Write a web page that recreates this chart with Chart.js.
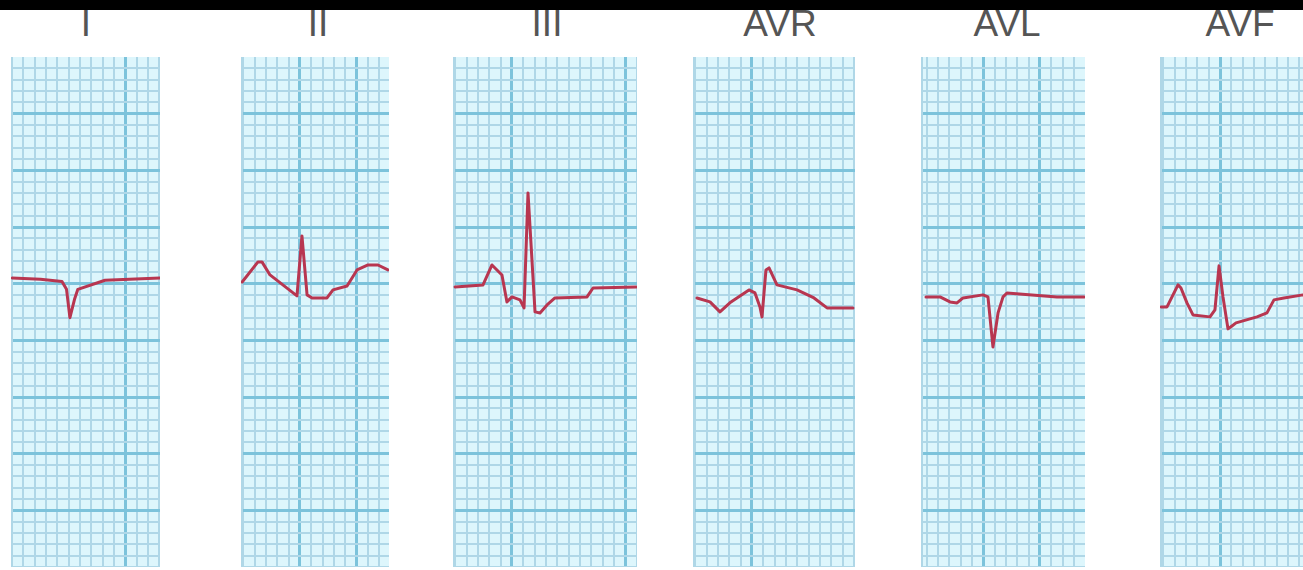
<!DOCTYPE html>
<html>
<head>
<meta charset="utf-8">
<script src="https://cdn.jsdelivr.net/npm/chart.js@4/dist/chart.umd.min.js"></script>
<style>
  html, body { margin: 0; padding: 0; background: #fff; overflow: hidden; width: 1303px; height: 570px; }
  #topbar { position: absolute; left: 0; top: 0; width: 1303px; height: 10px; background: #000; z-index: 5; }
  .lead-title { position: absolute; top: 4px; width: 160px; margin-left: -80px; text-align: center;
    font-family: "Liberation Sans", Arial, sans-serif; font-size: 37px; line-height: 40px; color: #555; }
  canvas.strip { position: absolute; top: 57px; }
</style>
</head>
<body>
<div id="topbar"></div>

<script>
// Lead names
const leadNames = ['I', 'II', 'III', 'AVR', 'AVL', 'AVF'];

// Traces: time in small-square (mm) units from the strip's left edge,
// amplitude in mm above the bottom of the strip.
const leadI_t   = [0.1, 2.6, 4.5, 4.9, 5.2, 5.6, 5.9, 8.3, 13.2];
const leadI_mm  = [25.5, 25.4, 25.2, 24.5, 22.0, 23.6, 24.5, 25.3, 25.5];

const leadII_t  = [0.1, 1.5, 1.85, 2.56, 4.94, 5.38, 5.83, 6.27, 7.59, 8.12, 9.36, 10.24, 11.21, 12.09, 12.97];
const leadII_mm = [25.15, 26.92, 26.92, 25.77, 23.92, 29.21, 24.01, 23.74, 23.74, 24.45, 24.8, 26.21, 26.65, 26.65, 26.21];

const leadIII_t  = [0.18, 2.65, 3.44, 4.32, 4.76, 5.21, 5.91, 6.27, 6.62, 7.24, 7.68, 8.3, 9.0, 11.83, 12.36, 16.15];
const leadIII_mm = [24.71, 24.89, 26.65, 25.77, 23.39, 23.83, 23.57, 22.86, 33.01, 22.51, 22.42, 23.12, 23.74, 23.83, 24.62, 24.71];

const leadAVR_t  = [0.35, 1.5, 2.38, 3.35, 4.94, 5.47, 5.91, 6.09, 6.44, 6.71, 7.41, 9.18, 10.68, 11.83, 14.12];
const leadAVR_mm = [23.74, 23.39, 22.51, 23.39, 24.45, 24.18, 22.95, 22.07, 26.21, 26.39, 24.89, 24.45, 23.74, 22.86, 22.86];

const leadAVL_t  = [0.44, 1.68, 2.56, 3.18, 3.71, 5.47, 5.91, 6.35, 6.8, 7.24, 7.59, 12.0, 14.39];
const leadAVL_mm = [23.83, 23.83, 23.39, 23.3, 23.74, 24.01, 23.83, 19.42, 22.42, 23.83, 24.18, 23.83, 23.83];

const leadAVF_t  = [0.09, 0.62, 1.59, 1.85, 2.38, 2.91, 4.41, 4.85, 5.21, 5.56, 6.0, 6.35, 6.71, 8.56, 9.44, 10.06, 10.94, 12.62, 14.12];
const leadAVF_mm = [22.95, 22.95, 24.89, 24.62, 23.3, 22.24, 22.07, 22.68, 26.57, 23.83, 21.01, 21.27, 21.54, 22.07, 22.42, 23.57, 23.74, 24.01, 24.01];

const leadTimes = [leadI_t, leadII_t, leadIII_t, leadAVR_t, leadAVL_t, leadAVF_t];
const leadAmps  = [leadI_mm, leadII_mm, leadIII_mm, leadAVR_mm, leadAVL_mm, leadAVF_mm];

// Strip placement on the page and phase of the paper grid in each strip
const stripLayout = [
  { left: 11,   right: 160,  phase: 0.1, majors: [10.1],       titleX: 86 },
  { left: 241,  right: 389,  phase: 0.2, majors: [5.2, 10.2],  titleX: 318 },
  { left: 453,  right: 637,  phase: 0.2, majors: [5.2, 15.2],  titleX: 547 },
  { left: 693,  right: 855,  phase: 0.2, majors: [5.2],        titleX: 780 },
  { left: 921,  right: 1085, phase: 0.5, majors: [5.5, 10.5],  titleX: 1007 },
  { left: 1160, right: 1320, phase: 0.3, majors: [5.3],        titleX: 1240 }
];
const PX_PER_MM = 11.33;
const STRIP_HEIGHT_PX = 510;
const STRIP_MM = 45;

const PAPER = '#ddf6fc';
const MINOR = '#afd7e7';
const MAJOR = '#7cc3db';
const TRACE = '#b83650';

const paperFill = {
  id: 'paperFill',
  beforeDraw(chart) {
    const { ctx, chartArea: a } = chart;
    ctx.save();
    ctx.fillStyle = PAPER;
    ctx.fillRect(a.left, a.top, a.right - a.left, a.bottom - a.top);
    ctx.restore();
  }
};

function isMajor(v, majors) {
  return majors.some(m => Math.abs(m - v) < 1e-6);
}

leadNames.forEach((name, i) => {
  const lay = stripLayout[i];
  const widthPx = lay.right - lay.left;
  const widthMm = widthPx / PX_PER_MM;

  const title = document.createElement('div');
  title.className = 'lead-title';
  title.style.left = lay.titleX + 'px';
  title.textContent = name;
  document.body.appendChild(title);

  const canvas = document.createElement('canvas');
  canvas.className = 'strip';
  canvas.width = widthPx;
  canvas.height = STRIP_HEIGHT_PX;
  canvas.style.left = lay.left + 'px';
  canvas.style.width = widthPx + 'px';
  canvas.style.height = STRIP_HEIGHT_PX + 'px';
  document.body.appendChild(canvas);

  const xTicks = [];
  for (let v = lay.phase; v < widthMm; v += 1) xTicks.push(+v.toFixed(3));
  const majorsX = lay.majors;
  const yTicks = [];
  for (let v = 1; v < STRIP_MM; v += 1) yTicks.push(v);
  const majorsY = [5, 10, 15, 20, 25, 30, 35, 40];

  const pts = leadTimes[i].map((t, k) => ({ x: t, y: leadAmps[i][k] }));

  new Chart(canvas, {
    type: 'line',
    data: {
      datasets: [{
        data: pts,
        borderColor: TRACE,
        borderWidth: 3,
        pointRadius: 0,
        tension: 0,
        borderJoinStyle: 'round',
        borderCapStyle: 'round',
        fill: false
      }]
    },
    options: {
      responsive: false,
      animation: false,
      devicePixelRatio: 1,
      layout: { padding: 0 },
      plugins: { legend: { display: false }, tooltip: { enabled: false }, title: { display: false } },
      events: [],
      scales: {
        x: {
          type: 'linear',
          min: 0,
          max: widthMm,
          afterBuildTicks: (scale) => { scale.ticks = xTicks.map(v => ({ value: v })); },
          ticks: { display: false },
          grid: {
            drawTicks: false,
            color: (c) => isMajor(c.tick.value, majorsX) ? MAJOR : MINOR,
            lineWidth: (c) => isMajor(c.tick.value, majorsX) ? 3 : 2
          },
          border: { display: true, color: MINOR, width: 3 }
        },
        y: {
          type: 'linear',
          min: 0,
          max: STRIP_MM,
          afterBuildTicks: (scale) => { scale.ticks = yTicks.map(v => ({ value: v })); },
          ticks: { display: false },
          grid: {
            drawTicks: false,
            color: (c) => majorsY.includes(c.tick.value) ? MAJOR : MINOR,
            lineWidth: (c) => majorsY.includes(c.tick.value) ? 3 : 2
          },
          border: { display: true, color: MINOR, width: 3 }
        }
      }
    },
    plugins: [paperFill]
  });
});
</script>
</body>
</html>
